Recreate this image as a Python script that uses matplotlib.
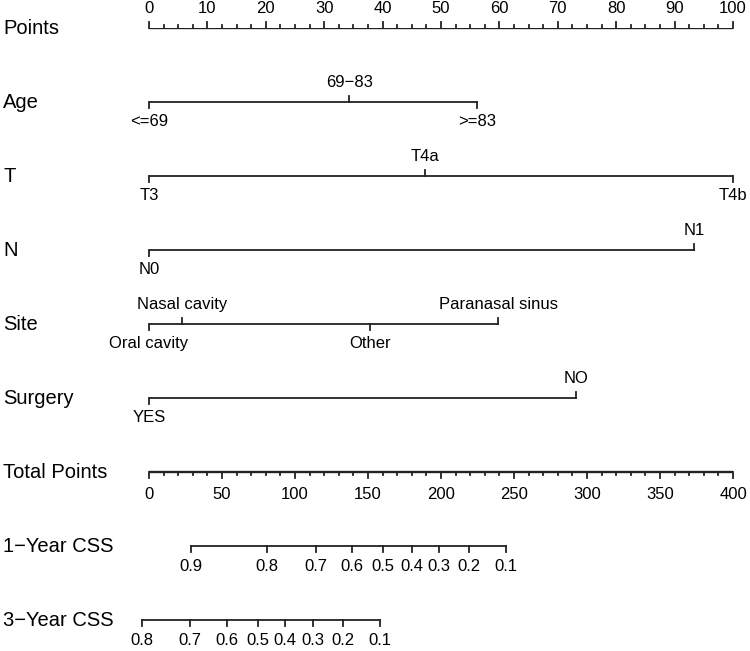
import numpy as np
import matplotlib.pyplot as plt

plt.rcParams["font.family"] = ["Liberation Sans", "DejaVu Sans"]

row_names = ["Points", "Age", "T", "N", "Site", "Surgery",
             "Total Points", "1\u2212Year CSS", "3\u2212Year CSS"]

# variable scales (points)
age_labels = ["<=69", "69\u221283", ">=83"]
age_pts = [0, 34.3, 56.2]
t_labels = ["T3", "T4a", "T4b"]
t_pts = [0, 47.3, 100]
n_labels = ["N0", "N1"]
n_pts = [0, 93.4]
site_labels = ["Oral cavity", "Nasal cavity", "Other", "Paranasal sinus"]
site_pts = [0, 5.7, 37.8, 59.8]
surg_labels = ["YES", "NO"]
surg_pts = [0, 73.2]

# survival scales (total points)
css1_labels = ["0.9", "0.8", "0.7", "0.6", "0.5", "0.4", "0.3", "0.2", "0.1"]
css1_tot = [28.8, 81.0, 114.2, 138.8, 160.1, 180.0, 198.8, 219.2, 244.3]
css3_labels = ["0.8", "0.7", "0.6", "0.5", "0.4", "0.3", "0.2", "0.1"]
css3_tot = [-4.6, 28.1, 53.2, 74.4, 93.2, 112.5, 132.7, 158.2]

points_max = 100
total_max = 400

W, H = 750, 651
fig = plt.figure(figsize=(W / 100, H / 100), dpi=100)
ax = fig.add_axes([149 / W, 1 - 620 / H, 584 / W, (620 - 28) / H])
ax.set_xlim(0, points_max)
ax.set_ylim(8, 0)
ax.axis("off")

lc = "#222222"
lw = 1.3
tk = 0.08   # tick length in row units
fs_tick = 12
fs_row = 14.5

for i, name in enumerate(row_names):
    ax.text(-146 / 584 * points_max, i, name,
            fontsize=fs_row, ha="left", va="center", clip_on=False)

# Points axis
ax.plot([0, points_max], [0, 0], color=lc, lw=lw + 0.4, solid_capstyle="butt")
for v in np.arange(0, points_max + 0.1, 2.5):
    major = v % 10 == 0
    ax.plot([v, v], [0, -(tk if major else tk / 2)], color=lc, lw=lw, clip_on=False)
    if major:
        ax.annotate(str(int(v)), (v, 0), xytext=(0, 14), textcoords="offset points",
                    ha="center", va="center", fontsize=fs_tick,
                    annotation_clip=False)

# variable rows
rows = [(age_labels, age_pts), (t_labels, t_pts), (n_labels, n_pts),
        (site_labels, site_pts), (surg_labels, surg_pts)]
for r, (labs, pts) in enumerate(rows, start=1):
    ax.plot([min(pts), max(pts)], [r, r], color=lc, lw=lw)
    order = np.argsort(pts)
    for k, idx in enumerate(order):
        up = k % 2 == 1
        d = -tk if up else tk
        ax.plot([pts[idx], pts[idx]], [r, r + d], color=lc, lw=lw, clip_on=False)
        ax.annotate(labs[idx], (pts[idx], r), xytext=(0, 14 if up else -14),
                    textcoords="offset points", ha="center", va="center",
                    fontsize=fs_tick, annotation_clip=False)

# Total points axis
scale = points_max / total_max
r = 6
ax.plot([0, points_max], [r, r], color=lc, lw=lw + 0.4, solid_capstyle="butt")
for v in np.arange(0, total_max + 1, 10):
    major = v % 50 == 0
    ax.plot([v * scale, v * scale], [r, r + (tk if major else tk / 2)], color=lc, lw=lw,
            clip_on=False)
    if major:
        ax.annotate(str(int(v)), (v * scale, r), xytext=(0, -16),
                    textcoords="offset points", ha="center", va="center",
                    fontsize=fs_tick, annotation_clip=False)

# survival axes
for r, labs, tot in [(7, css1_labels, css1_tot), (8, css3_labels, css3_tot)]:
    xs = np.array(tot) * scale
    ax.plot([xs.min(), xs.max()], [r, r], color=lc, lw=lw, clip_on=False)
    for x, lab in zip(xs, labs):
        ax.plot([x, x], [r, r + tk], color=lc, lw=lw, clip_on=False)
        ax.annotate(lab, (x, r), xytext=(0, -15), textcoords="offset points",
                    ha="center", va="center", fontsize=fs_tick,
                    annotation_clip=False)

fig.savefig("out.png", dpi=100)
